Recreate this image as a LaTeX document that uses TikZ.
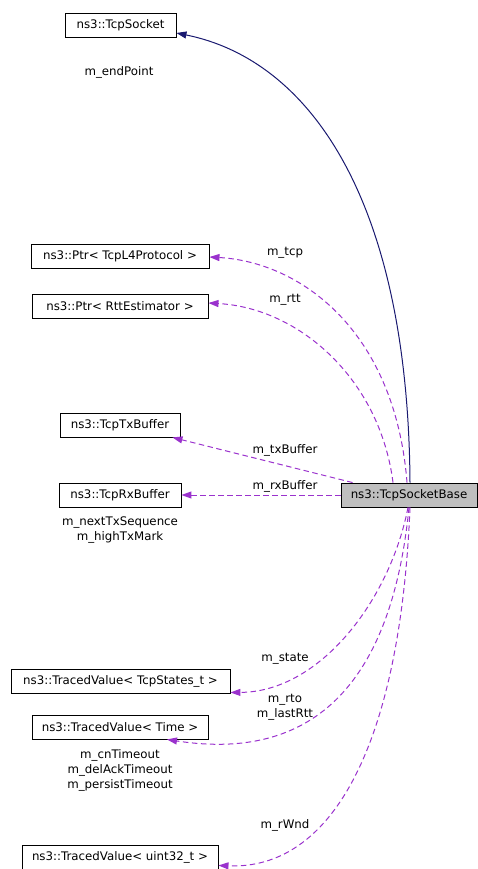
\documentclass[tikz,border=0pt]{standalone}
\usepackage{fontspec}
\setmainfont{DejaVu Sans}
\usetikzlibrary{arrows.meta}
\definecolor{edgepurple}{HTML}{9A32CD}
\definecolor{edgenavy}{HTML}{191970}
\definecolor{basefill}{HTML}{BFBFBF}
\tikzset{
  cls/.style={draw=black, line width=0.9pt, minimum height=24pt, inner sep=0pt,
    font=\fontsize{11.8}{14}\selectfont, fill=white},
  lbl/.style={inner sep=0pt, align=center, font=\fontsize{11.8}{15}\selectfont},
  member/.style={draw=edgepurple, line width=1pt, dash pattern=on 5.5pt off 3.5pt,
    -{Triangle[length=10pt,width=7pt]}},
  inherit/.style={draw=edgenavy, line width=1pt, -{Triangle[length=10pt,width=7pt]}}
}
\begin{document}
\begin{tikzpicture}[x=1pt,y=-1pt]
\useasboundingbox (0,0) rectangle (478,869);
\node[cls, minimum width=111pt] (sock) at (120.5,25.5) {ns3::TcpSocket};
\node[cls, minimum width=178pt] (tcp) at (120,256) {ns3::Ptr< TcpL4Protocol >};
\node[cls, minimum width=176pt] (rtt) at (120,306) {ns3::Ptr< RttEstimator >};
\node[cls, minimum width=120pt] (tx) at (120,425) {ns3::TcpTxBuffer};
\node[cls, minimum width=122pt] (rx) at (120,495) {ns3::TcpRxBuffer};
\node[cls, minimum width=136pt, fill=basefill] (base) at (409,495) {ns3::TcpSocketBase};
\node[cls, minimum width=219pt] (state) at (120.5,681) {ns3::TracedValue< TcpStates\_t >};
\node[cls, minimum width=176pt] (time) at (120,727) {ns3::TracedValue< Time >};
\node[cls, minimum width=196pt] (u32) at (120,857) {ns3::TracedValue< uint32\_t >};

\node[lbl] (lend) at (119,72) {m\_endPoint};
\node[lbl] (ltcp) at (285,253) {m\_tcp};
\node[lbl] (lrtt) at (285,300) {m\_rtt};
\node[lbl] (ltx) at (285,450) {m\_txBuffer};
\node[lbl] (lrx) at (285,486) {m\_rxBuffer};
\node[lbl] (lseq) at (120,530.5) {m\_nextTxSequence\\m\_highTxMark};
\node[lbl] (lstate) at (285,659) {m\_state};
\node[lbl] (lrto) at (285,707.5) {m\_rto\\m\_lastRtt};
\node[lbl] (ltime) at (120,770) {m\_cnTimeout\\m\_delAckTimeout\\m\_persistTimeout};
\node[lbl] (lrwnd) at (285,825) {m\_rWnd};

\draw[inherit] ([xshift=1pt]base.north) .. controls (408,200) and (310,60) .. (sock.east |- 0,33);
\draw[member] ([xshift=-2pt]base.north) .. controls (395,330) and (300,262) .. ([yshift=-1pt]tcp.east);
\draw[member] ([xshift=-16pt]base.north) .. controls (380,380) and (300,308) .. ([yshift=3pt]rtt.east);
\draw[member] ([xshift=12pt]base.north west) -- ([xshift=-8pt]tx.south east);
\draw[member] (base.west) -- (rx.east);
\draw[member] ([xshift=-1pt]base.south) .. controls (390,600) and (320,692) .. ([yshift=1pt]state.south east);
\draw[member] (base.south) .. controls (390,700) and (300,760) .. ([xshift=47pt]time.south);
\draw[member] ([xshift=1pt]base.south) .. controls (400,750) and (330,870) .. ([yshift=4pt]u32.south east);
\end{tikzpicture}
\end{document}
